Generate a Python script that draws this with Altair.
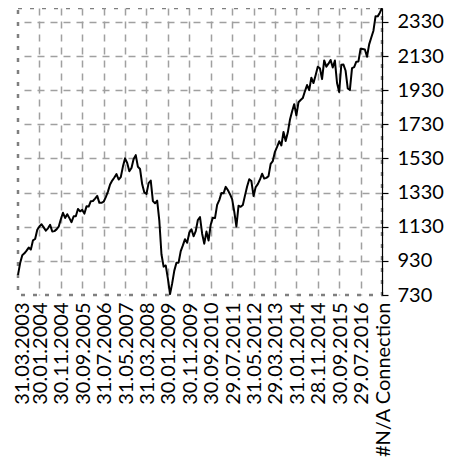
import json
import altair as alt
import pandas as pd

# Monthly closes, 31.03.2003 ... (last category "#N/A Connection")
closes = [
    848.18, 916.92, 963.59, 974.50, 990.31, 1008.01, 995.97, 1050.71, 1058.20, 1111.92,
    1131.13, 1144.94, 1126.21, 1107.30, 1120.68, 1140.84, 1101.72, 1104.24, 1114.58, 1130.20, 1173.82, 1211.92,
    1181.27, 1203.60, 1180.59, 1156.85, 1191.50, 1191.33, 1234.18, 1220.33, 1228.81, 1207.01, 1249.48, 1248.29,
    1280.08, 1280.66, 1294.83, 1310.61, 1270.09, 1270.20, 1276.66, 1303.82, 1335.85, 1377.94, 1400.63, 1418.30,
    1438.24, 1406.82, 1420.86, 1482.37, 1530.62, 1503.35, 1455.27, 1473.99, 1526.75, 1549.38, 1481.14, 1468.36,
    1378.55, 1330.63, 1322.70, 1385.59, 1400.38, 1280.00, 1267.38, 1282.83, 1166.36, 968.75, 896.24, 903.25,
    825.88, 735.09, 797.87, 872.81, 919.14, 919.32, 987.48, 1020.62, 1057.08, 1036.19, 1095.63, 1115.10,
    1073.87, 1104.49, 1169.43, 1186.69, 1089.41, 1030.71, 1101.60, 1049.33, 1141.20, 1183.26, 1180.55, 1257.64,
    1286.12, 1327.22, 1325.83, 1363.61, 1345.20, 1320.64, 1292.28, 1218.89, 1131.42, 1253.30, 1246.96, 1257.60,
    1312.41, 1365.68, 1408.47, 1397.91, 1310.33, 1362.16, 1379.32, 1406.58, 1440.67, 1412.16, 1416.18, 1426.19,
    1498.11, 1514.68, 1569.19, 1597.57, 1630.74, 1606.28, 1685.73, 1632.97, 1681.55, 1756.54, 1805.81, 1848.36,
    1782.59, 1859.45, 1872.34, 1883.95, 1923.57, 1960.23, 1930.67, 2003.37, 1972.29, 2018.05, 2067.56, 2058.90,
    1994.99, 2104.50, 2067.89, 2085.51, 2107.39, 2063.11, 2103.84, 1972.18, 1920.03, 2079.36, 2080.41, 2043.94,
    1940.24, 1932.23, 2059.74, 2065.30, 2096.95, 2098.86, 2173.60, 2170.95, 2168.27, 2126.15, 2198.81, 2238.83,
    2278.87, 2363.64, 2362.72, 2384.20, 2411.80,
]

x_labels = [
    "31.03.2003", "30.01.2004", "30.11.2004", "30.09.2005", "31.07.2006", "31.05.2007",
    "31.03.2008", "30.01.2009", "30.11.2009", "30.09.2010", "29.07.2011", "31.05.2012",
    "29.03.2013", "31.01.2014", "28.11.2014", "30.09.2015", "29.07.2016", "#N/A Connection",
]
label_step = 10
y_ticks = [730, 930, 1130, 1330, 1530, 1730, 1930, 2130, 2330]

df = pd.DataFrame({"idx": list(range(len(closes))), "close": closes})
n_last = len(closes) - 1
x_tick_vals = [i * label_step for i in range(len(x_labels))]
label_expr = json.dumps(x_labels) + "[round(datum.value / %d)]" % label_step

FONT = "Lato"

chart = alt.Chart(df).mark_line(color="black", strokeWidth=2, strokeJoin="round").encode(
    x=alt.X(
        "idx:Q",
        scale=alt.Scale(domain=[0, n_last], nice=False, zero=False),
        axis=alt.Axis(
            values=x_tick_vals,
            labelExpr=label_expr,
            labelAngle=270,
            labelAlign="right",
            labelBaseline="middle",
            labelPadding=7,
            labelOffset={"condition": {"test": "datum.value == 0", "value": 4}, "value": 1},
            labelFontSize=20,
            labelFont=FONT,
            labelColor="black",
            labelOverlap=False,
            labelFlush=False,
            domain=False,
            ticks=False,
            title=None,
            grid=True,
            gridColor="#a0a0a0",
            gridDash=[7, 6],
            gridWidth=1.5,
            gridOpacity={"condition": {"test": "datum.value == 0 || datum.value == %d" % n_last, "value": 0}, "value": 1},
        ),
    ),
    y=alt.Y(
        "close:Q",
        scale=alt.Scale(domain=[730, max(closes)], nice=False, zero=False),
        axis=alt.Axis(
            orient="right",
            values=y_ticks,
            format="d",
            labelFontSize=20,
            labelFont=FONT,
            labelColor="black",
            labelPadding=9,
            labelFlush=False,
            labelOverlap=False,
            domain=True,
            domainColor="black",
            domainWidth=1.2,
            ticks=True,
            tickColor="black",
            tickSize=6,
            tickWidth=1.2,
            title=None,
            grid=True,
            gridColor="#a0a0a0",
            gridDash=[7, 6],
            gridWidth=1.5,
            gridOpacity={"condition": {"test": "datum.value == 730", "value": 0}, "value": 1},
        ),
    ),
).properties(
    width=364,
    height=287,
    autosize=alt.AutoSizeParams(type="none"),
    padding={"left": 10, "top": 0, "right": 75, "bottom": 168},
).configure_view(
    stroke="#7f7f7f",
    strokeWidth=2.5,
    strokeDash=[4, 8],
)

chart.save("out.html", embed_options={"renderer": "svg", "actions": False})
